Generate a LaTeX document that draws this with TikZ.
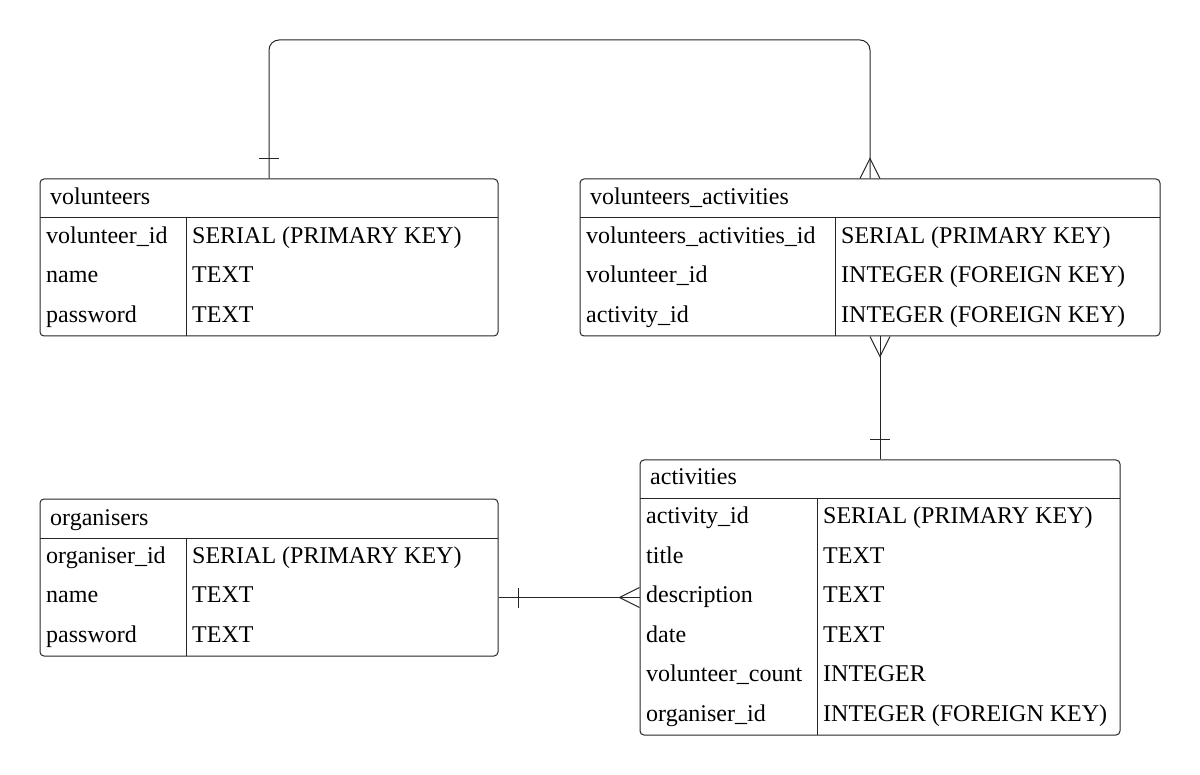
\documentclass[tikz,border=0pt]{standalone}
\usepackage{fontspec}
\setmainfont{Liberation Serif}
\usetikzlibrary{calc}
\tikzset{
	table/.style={
		% The shape:
		rectangle,rounded corners=4pt,
		% The border:
		draw=black!85,line width=1pt,
		inner sep=0pt,
	}}
\tikzset{
	field/.style={
		anchor=base west,inner sep=0pt,
		font=\fontsize{24}{28}\selectfont,
	}}
\tikzset{
	rel/.style={draw=black!85,line width=1pt}}

\begin{document}
\begin{tikzpicture}[x=1pt,y=-1pt]
	\useasboundingbox (0,0) rectangle (1200,775);
	% volunteers
	\node[table,minimum width=458pt,minimum height=157pt] (vol) at (269,257.5) {};
	\draw[rel] (40,218) -- (498,218) (186,218) -- (186,336);
	\node[field] (vol-h) at (50,205) {volunteers};
	\foreach \f/\t [count=\i] in {volunteer\_id/SERIAL (PRIMARY KEY),name/TEXT,password/TEXT}{
		\node[field] (vol-f\i) at (46,218+39.3*\i-13.8) {\f};
		\node[field] (vol-t\i) at (192,218+39.3*\i-13.8) {\t};
	}
	% volunteers_activities
	\node[table,minimum width=580pt,minimum height=157pt] (va) at (870,257.5) {};
	\draw[rel] (580,218) -- (1160,218) (835,218) -- (835,336);
	\node[field] (va-h) at (590,205) {volunteers\_activities};
	\foreach \f/\t [count=\i] in {volunteers\_activities\_id/SERIAL (PRIMARY KEY),volunteer\_id/INTEGER (FOREIGN KEY),activity\_id/INTEGER (FOREIGN KEY)}{
		\node[field] (va-f\i) at (586,218+39.3*\i-13.8) {\f};
		\node[field] (va-t\i) at (841,218+39.3*\i-13.8) {\t};
	}
	% organisers
	\node[table,minimum width=458pt,minimum height=157pt] (org) at (269,577.5) {};
	\draw[rel] (40,538) -- (498,538) (186,538) -- (186,656);
	\node[field] (org-h) at (50,525) {organisers};
	\foreach \f/\t [count=\i] in {organiser\_id/SERIAL (PRIMARY KEY),name/TEXT,password/TEXT}{
		\node[field] (org-f\i) at (46,538+39.3*\i-13.8) {\f};
		\node[field] (org-t\i) at (192,538+39.3*\i-13.8) {\t};
	}
	% activities
	\node[table,minimum width=480pt,minimum height=275pt] (act) at (880,597.5) {};
	\draw[rel] (640,498) -- (1120,498) (817,498) -- (817,735);
	\node[field] (act-h) at (650,485) {activities};
	\foreach \f/\t [count=\i] in {activity\_id/SERIAL (PRIMARY KEY),title/TEXT,description/TEXT,date/TEXT,volunteer\_count/INTEGER,organiser\_id/INTEGER (FOREIGN KEY)}{
		\node[field] (act-f\i) at (646,498+39.5*\i-14) {\f};
		\node[field] (act-t\i) at (823,498+39.5*\i-14) {\t};
	}
	% relations
	\coordinate (top) at (570,40);
	\draw[rel,rounded corners=10pt] (vol.north) -- (vol.north |- top) -- (va.north |- top) -- (va.north);
	\draw[rel] ([xshift=-10pt,yshift=20pt]vol.north) -- ([xshift=10pt,yshift=20pt]vol.north);
	\draw[rel] ([xshift=-10pt]va.north) -- ([yshift=20pt]va.north) -- ([xshift=10pt]va.north);
	\coordinate (vaa) at (act.north |- va.south);
	\draw[rel] (act.north) -- (vaa);
	\draw[rel] ([xshift=-10pt]vaa) -- ([yshift=-20pt]vaa) -- ([xshift=10pt]vaa);
	\draw[rel] ([xshift=-10pt,yshift=20pt]act.north) -- ([xshift=10pt,yshift=20pt]act.north);
	\coordinate (orga) at (act.west -| org.east);
	\draw[rel] (orga) -- (act.west);
	\draw[rel] ([xshift=20pt,yshift=-10pt]orga) -- ([xshift=20pt,yshift=10pt]orga);
	\draw[rel] ([yshift=-10pt]act.west) -- ([xshift=-20pt]act.west) -- ([yshift=10pt]act.west);
\end{tikzpicture}
\end{document}
